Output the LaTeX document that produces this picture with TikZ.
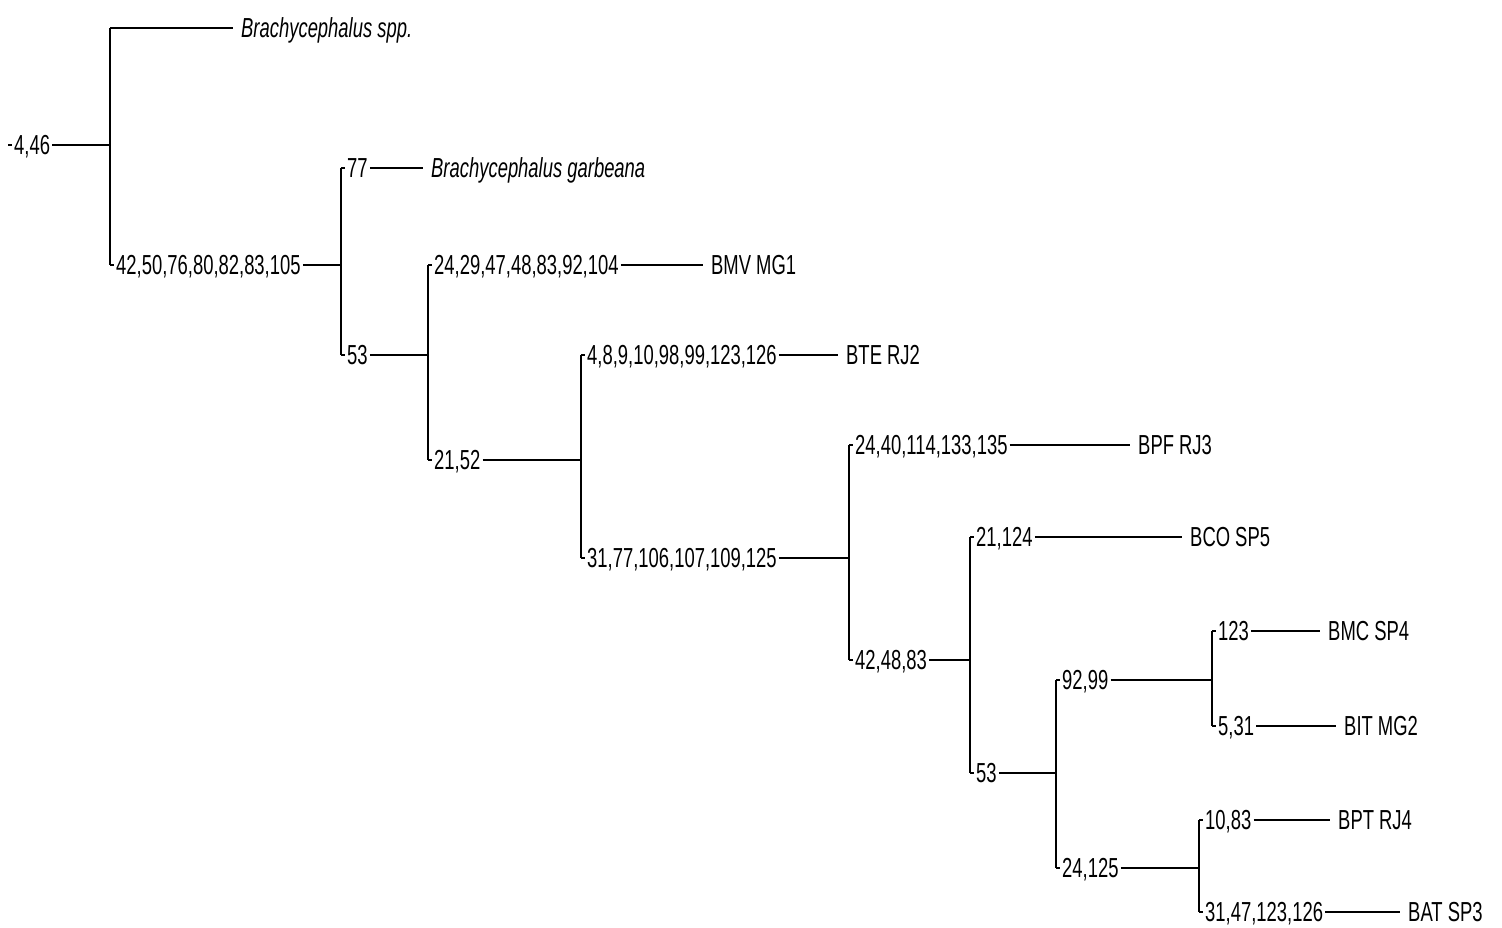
\documentclass[tikz,border=0pt]{standalone}
\usepackage{fontspec}
\setmainfont[FakeStretch=0.67]{Liberation Sans}
\usetikzlibrary{positioning}
\tikzset{
  lab/.style  = {font=\fontsize{27.5}{30}\selectfont, inner xsep=2pt,
                 inner ysep=0pt, text height=19.7pt, text depth=0pt,
                 anchor=west},
  leaf/.style = {lab, inner xsep=8pt},
  sp/.style   = {leaf, font=\fontsize{27.5}{30}\selectfont\itshape},
  br/.style   = {line width=1.8pt}
}

\begin{document}
\begin{tikzpicture}[x=1pt, y=-1pt]
  \useasboundingbox (0,0) rectangle (1502,927);

  % ── root ───────────────────────────────────────────────────────────────
  \coordinate (stub) at (8,145);
  \node[lab] (root) at (12,145) {4,46};
  \coordinate (v1) at (110,145);
  \draw[br] (stub) -- (root.west);
  \draw[br] (root.east) -- (v1);

  \node[sp]  (spp) at (233,28) {Brachycephalus spp.};
  \node[lab] (b1)  at (114,265) {42,50,76,80,82,83,105};
  \draw[br] (v1 |- spp) -- (v1 |- b1);
  \draw[br] (v1 |- spp) -- (spp.west);
  \draw[br] (v1 |- b1) -- (b1.west);

  % ── garbeana split ─────────────────────────────────────────────────────
  \coordinate (v2) at (341,265);
  \draw[br] (b1.east) -- (v2);
  \node[lab]  (b77) at (345,168) {77};
  \node[sp]   (gar) at (423,168) {Brachycephalus garbeana};
  \node[lab]  (b53) at (345,355) {53};
  \draw[br] (v2 |- b77) -- (v2 |- b53);
  \draw[br] (v2 |- b77) -- (b77.west);
  \draw[br] (v2 |- b53) -- (b53.west);
  \draw[br] (b77.east) -- (gar.west);

  % ── BMV MG1 split ──────────────────────────────────────────────────────
  \coordinate (v3) at (428,355);
  \draw[br] (b53.east) -- (v3);
  \node[lab]  (bmvb) at (432,265) {24,29,47,48,83,92,104};
  \node[leaf] (bmv)  at (703,265) {BMV MG1};
  \node[lab]  (b2152) at (432,460) {21,52};
  \draw[br] (v3 |- bmvb) -- (v3 |- b2152);
  \draw[br] (v3 |- bmvb) -- (bmvb.west);
  \draw[br] (v3 |- b2152) -- (b2152.west);
  \draw[br] (bmvb.east) -- (bmv.west);

  % ── BTE RJ2 split ──────────────────────────────────────────────────────
  \coordinate (v4) at (581,460);
  \draw[br] (b2152.east) -- (v4);
  \node[lab]  (bteb) at (585,355) {4,8,9,10,98,99,123,126};
  \node[leaf] (bte)  at (838,355) {BTE RJ2};
  \node[lab]  (b31)  at (585,558) {31,77,106,107,109,125};
  \draw[br] (v4 |- bteb) -- (v4 |- b31);
  \draw[br] (v4 |- bteb) -- (bteb.west);
  \draw[br] (v4 |- b31) -- (b31.west);
  \draw[br] (bteb.east) -- (bte.west);

  % ── BPF RJ3 split ──────────────────────────────────────────────────────
  \coordinate (v5) at (849,558);
  \draw[br] (b31.east) -- (v5);
  \node[lab]  (bpfb) at (853,445) {24,40,114,133,135};
  \node[leaf] (bpf)  at (1130,445) {BPF RJ3};
  \node[lab]  (b42)  at (853,660) {42,48,83};
  \draw[br] (v5 |- bpfb) -- (v5 |- b42);
  \draw[br] (v5 |- bpfb) -- (bpfb.west);
  \draw[br] (v5 |- b42) -- (b42.west);
  \draw[br] (bpfb.east) -- (bpf.west);

  % ── BCO SP5 split ──────────────────────────────────────────────────────
  \coordinate (v6) at (970,660);
  \draw[br] (b42.east) -- (v6);
  \node[lab]  (bcob) at (974,537) {21,124};
  \node[leaf] (bco)  at (1182,537) {BCO SP5};
  \node[lab]  (b53b) at (974,773) {53};
  \draw[br] (v6 |- bcob) -- (v6 |- b53b);
  \draw[br] (v6 |- bcob) -- (bcob.west);
  \draw[br] (v6 |- b53b) -- (b53b.west);
  \draw[br] (bcob.east) -- (bco.west);

  % ── two last clades ────────────────────────────────────────────────────
  \coordinate (v7) at (1056,773);
  \draw[br] (b53b.east) -- (v7);
  \node[lab] (b9299)  at (1060,680) {92,99};
  \node[lab] (b24125) at (1060,868) {24,125};
  \draw[br] (v7 |- b9299) -- (v7 |- b24125);
  \draw[br] (v7 |- b9299) -- (b9299.west);
  \draw[br] (v7 |- b24125) -- (b24125.west);

  % BMC SP4 / BIT MG2
  \coordinate (v8) at (1212,680);
  \draw[br] (b9299.east) -- (v8);
  \node[lab]  (bmcb) at (1216,631) {123};
  \node[leaf] (bmc)  at (1320,631) {BMC SP4};
  \node[lab]  (bitb) at (1216,726) {5,31};
  \node[leaf] (bit)  at (1336,726) {BIT MG2};
  \draw[br] (v8 |- bmcb) -- (v8 |- bitb);
  \draw[br] (v8 |- bmcb) -- (bmcb.west);
  \draw[br] (v8 |- bitb) -- (bitb.west);
  \draw[br] (bmcb.east) -- (bmc.west);
  \draw[br] (bitb.east) -- (bit.west);

  % BPT RJ4 / BAT SP3
  \coordinate (v9) at (1199,868);
  \draw[br] (b24125.east) -- (v9);
  \node[lab]  (bptb) at (1203,820) {10,83};
  \node[leaf] (bpt)  at (1330,820) {BPT RJ4};
  \node[lab]  (batb) at (1203,912) {31,47,123,126};
  \node[leaf] (bat)  at (1400,912) {BAT SP3};
  \draw[br] (v9 |- bptb) -- (v9 |- batb);
  \draw[br] (v9 |- bptb) -- (bptb.west);
  \draw[br] (v9 |- batb) -- (batb.west);
  \draw[br] (bptb.east) -- (bpt.west);
  \draw[br] (batb.east) -- (bat.west);

\end{tikzpicture}
\end{document}
